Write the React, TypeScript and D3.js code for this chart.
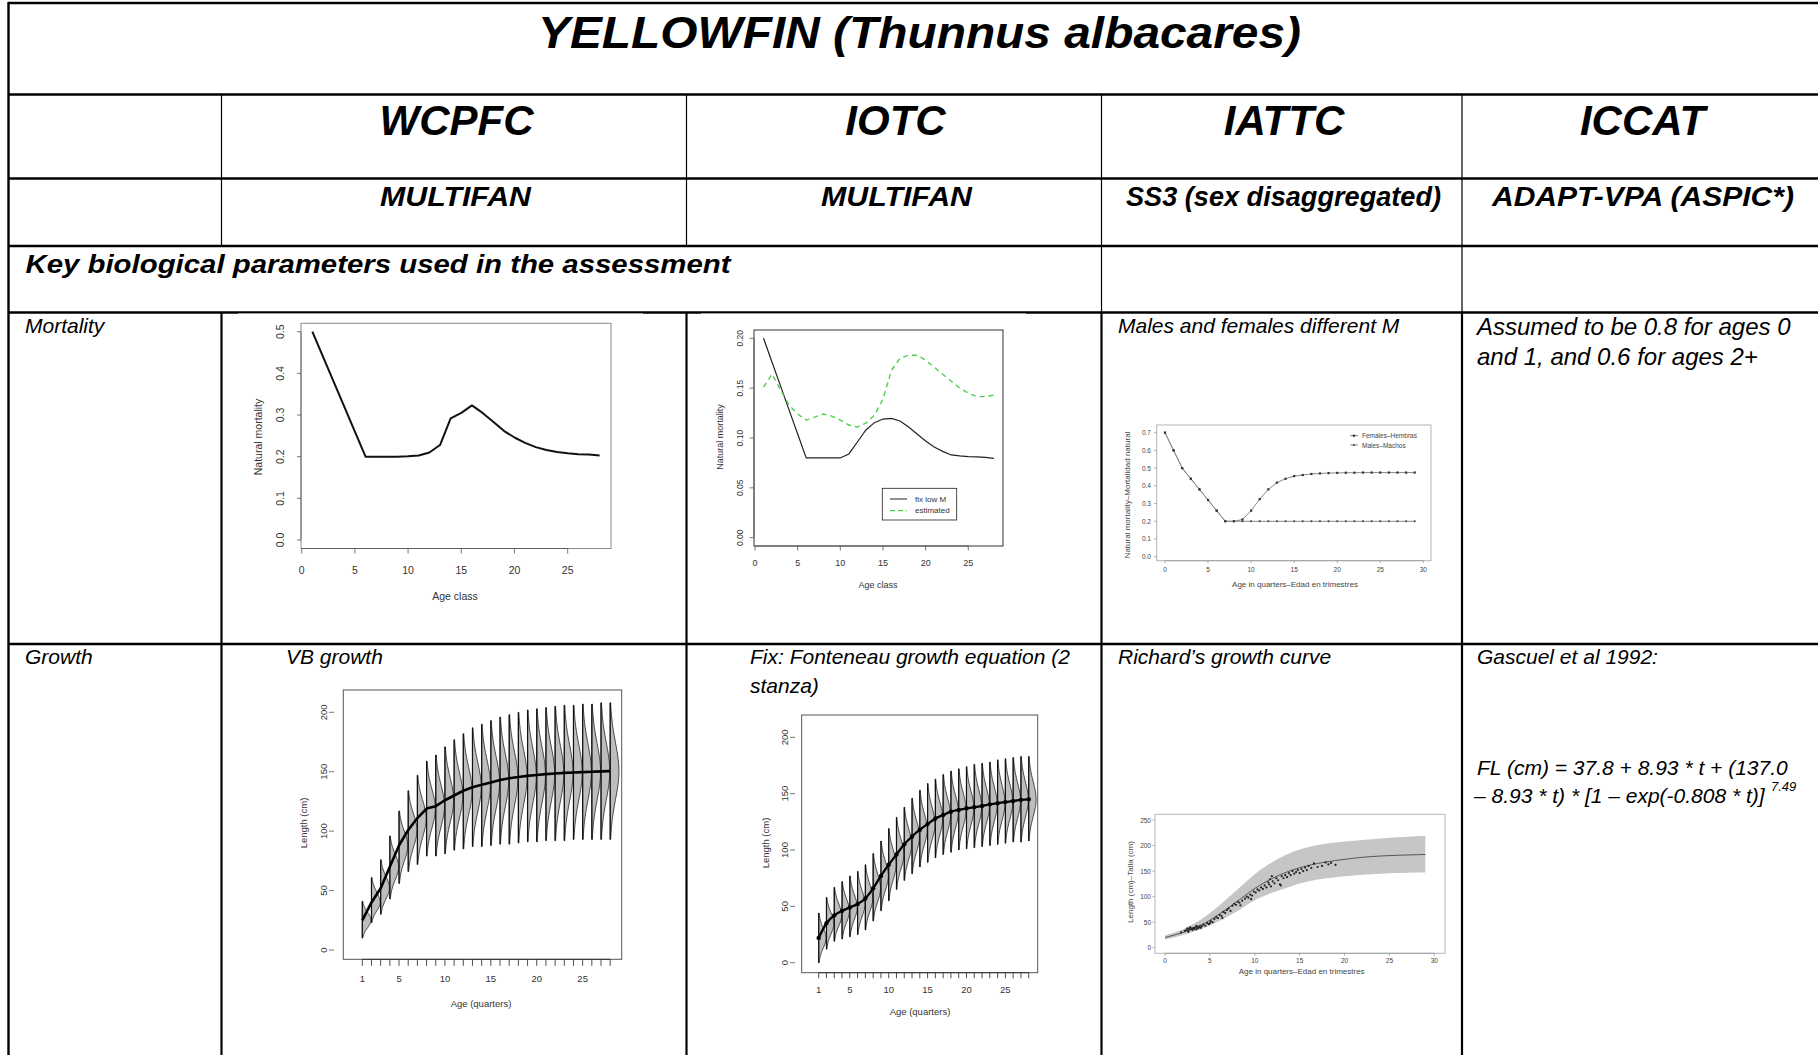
import React from 'react';
import * as d3 from 'd3';

const FONT = '"Liberation Sans", Arial, Helvetica, sans-serif';

// ---------- values ----------
const ageClass = [1, 2, 3, 4, 5, 6, 7, 8, 9, 10, 11, 12, 13, 14, 15, 16, 17, 18, 19, 20, 21, 22, 23, 24, 25, 26, 27, 28];

// WCPFC natural mortality by age class
const wcpfcM = [0.5, 0.44, 0.38, 0.32, 0.26, 0.2, 0.2, 0.2, 0.2, 0.201, 0.203, 0.21, 0.228, 0.292, 0.305, 0.323, 0.305, 0.284,
  0.262, 0.246, 0.233, 0.223, 0.216, 0.211, 0.208, 0.206, 0.205, 0.203];

// IOTC natural mortality: fixed low M and estimated
const iotcFixLowM = [0.2, 0.176, 0.152, 0.128, 0.104, 0.08, 0.08, 0.08, 0.08, 0.08, 0.084, 0.096, 0.108, 0.1154, 0.119, 0.1197,
  0.117, 0.111, 0.104, 0.097, 0.091, 0.0866, 0.083, 0.082, 0.0813, 0.081, 0.0806, 0.0796];
const iotcEstimated = [0.151, 0.164, 0.148, 0.133, 0.124, 0.118, 0.121, 0.124, 0.122, 0.118, 0.113, 0.111, 0.115, 0.123, 0.139,
  0.168, 0.18, 0.183, 0.183, 0.178, 0.171, 0.164, 0.157, 0.15, 0.145, 0.1415, 0.1415, 0.143];

// IATTC natural mortality by quarter, females and males
const quarterAge = [0, 1, 2, 3, 4, 5, 6, 7, 8, 9, 10, 11, 12, 13, 14, 15, 16, 17, 18, 19, 20, 21, 22, 23, 24, 25, 26, 27, 28, 29];
const iattcFemales = [0.7, 0.6, 0.5, 0.44, 0.38, 0.32, 0.26, 0.2, 0.2, 0.21, 0.26, 0.325, 0.38, 0.418, 0.44, 0.455, 0.461,
  0.467, 0.47, 0.472, 0.473, 0.474, 0.474, 0.475, 0.475, 0.475, 0.475, 0.475, 0.475, 0.475];
const iattcMales = [0.7, 0.6, 0.5, 0.44, 0.38, 0.32, 0.26, 0.2, 0.2, 0.2, 0.2, 0.2, 0.2, 0.2, 0.2, 0.2, 0.2, 0.2, 0.2, 0.2,
  0.2, 0.2, 0.2, 0.2, 0.2, 0.2, 0.2, 0.2, 0.2, 0.2];

// WCPFC VB growth: mean length at age and extent of the length distribution
const wcpfcLen = [25, 40, 52, 70, 88, 101, 111, 119, 121, 126, 130, 134, 137, 139, 141, 143, 144.5, 145.5, 146.5, 147.3,
  148, 148.5, 149, 149.4, 149.7, 150, 150.3, 150.5];
const wcpfcLenLow = [10, 23, 30, 43, 56, 66, 72, 79, 79, 81, 84, 85, 87, 87, 88, 89, 89, 90, 91, 91, 92, 92, 92, 93, 93, 93, 93, 93];
const wcpfcLenHigh = [41, 61, 76, 96, 117, 134, 147, 159, 164, 171, 177, 182, 187, 190, 193, 196, 198, 200, 202, 203, 204,
  205, 206, 206, 207, 207, 208, 208];

// IOTC two-stanza growth
const iotcLen = [22, 35, 42, 46, 49, 52, 57, 66, 77, 87, 96, 105, 112, 118, 123, 128, 131, 134, 135.5, 137, 138, 139, 140.5,
  141.5, 142.5, 143.5, 144.5, 145];
const iotcLenLow = [0, 12, 19, 21, 23, 25, 29, 37, 46, 55, 65, 73, 79, 85, 89, 93, 96, 98, 100, 101, 102, 103, 104, 105, 106,
  107, 107, 108];
const iotcLenHigh = [44, 58, 67, 72, 77, 81, 87, 97, 108, 119, 129, 138, 146, 153, 159, 163, 167, 170, 172, 174, 176, 177,
  178, 180, 181, 182, 183, 183];

// IATTC Richards growth curve with its band
const richardsAge = [0, 2, 4, 6, 8, 10, 12, 14, 16, 18, 20, 22, 24, 26, 28, 29];
const richardsLen = [20, 30, 44, 65, 90, 116, 136, 151, 161, 168, 173, 177, 179.5, 181, 182, 182.5];
const richardsLow = [16, 25, 36, 52, 71, 93, 108, 120, 130, 136, 140, 143, 145, 146, 147, 147];
const richardsHigh = [24, 36, 55, 82, 113, 144, 168, 186, 197, 204, 208, 211, 214, 216, 218, 218.5];
const iattcObsAge = [1.8, 2.2, 2.4, 2.5, 2.6, 2.7, 2.8, 2.9, 3.0, 3.1, 3.2, 3.3, 3.4, 3.5, 3.6, 3.7, 3.8, 3.9, 4.0, 4.1,
  4.3, 4.5, 4.7, 4.9, 5.1, 5.3, 5.5, 5.7, 5.9, 6.1, 6.3, 6.5, 6.7, 6.9, 7.1, 7.3, 7.5, 7.7, 7.9, 8.1, 8.3, 8.6, 8.9, 9.1,
  9.3, 9.5, 9.7, 9.9, 10.1, 10.3, 10.5, 10.7, 10.9, 11.1, 11.3, 11.5, 11.6, 11.7, 11.8, 12.0, 12.2, 12.4, 12.6, 12.8, 13.0,
  13.2, 13.4, 13.6, 13.8, 14.0, 14.2, 14.4, 14.6, 14.8, 15.0, 15.2, 15.4, 15.6, 15.8, 16.0, 16.3, 16.6, 17.0, 17.5, 17.9,
  18.2, 18.5, 19.0, 12.9, 11.9, 9.6, 8.4, 6.4, 5.0, 3.5, 2.6];
const iattcObsLen = [30, 33, 35, 38, 34, 37, 40, 36, 38, 35, 39, 37, 40, 36, 41, 38, 40, 43, 39, 42, 45, 43, 48, 46, 52,
  50, 56, 60, 58, 64, 62, 70, 68, 74, 77, 72, 82, 86, 84, 90, 88, 92, 96, 100, 98, 104, 102, 110, 108, 114, 112, 118, 115,
  122, 118, 128, 124, 134, 120, 130, 126, 136, 132, 124, 140, 136, 142, 138, 146, 142, 150, 145, 148, 152, 146, 154, 150,
  157, 152, 160, 156, 165, 158, 160, 167, 163, 166, 162, 122, 140, 95, 83, 58, 48, 43, 31];

// tick labels
const wcpfcMTicks = ['0.0', '0.1', '0.2', '0.3', '0.4', '0.5'];
const iotcMTicks = ['0.00', '0.05', '0.10', '0.15', '0.20'];
const iattcMTicks = ['0.0', '0.1', '0.2', '0.3', '0.4', '0.5', '0.6', '0.7'];
const growthLabelAges = [1, 5, 10, 15, 20, 25];

type Lin = d3.ScaleLinear<number, number>;

function Box({ x0, x1, y0, y1, stroke = '#888', sw = 1 }: any) {
  return <rect x={x0} y={y0} width={x1 - x0} height={y1 - y0} fill="none" stroke={stroke} strokeWidth={sw} />;
}

function BottomAxis({ scale, at, ticks, labels, len, labelY, fs, stroke = '#555', fill = '#333' }: any) {
  return (
    <g>
      <line x1={scale(ticks[0])} x2={scale(ticks[ticks.length - 1])} y1={at} y2={at} stroke={stroke} strokeWidth={0.8} />
      {ticks.map((t: number) => (
        <line key={'t' + t} x1={scale(t)} x2={scale(t)} y1={at} y2={at + len} stroke={stroke} strokeWidth={0.8} />
      ))}
      {labels.map((l: { v: number; t: string }) => (
        <text key={'l' + l.v} x={scale(l.v)} y={labelY} textAnchor="middle" dominantBaseline="central" fontSize={fs} fill={fill}>
          {l.t}
        </text>
      ))}
    </g>
  );
}

function LeftAxis({ scale, at, ticks, labels, len, labelX, fs, rotate = true, line = true, stroke = '#555', fill = '#333' }: any) {
  return (
    <g>
      {line && <line x1={at} x2={at} y1={scale(ticks[0])} y2={scale(ticks[ticks.length - 1])} stroke={stroke} strokeWidth={0.8} />}
      {ticks.map((t: number) => (
        <line key={'t' + t} x1={at} x2={at - len} y1={scale(t)} y2={scale(t)} stroke={stroke} strokeWidth={0.8} />
      ))}
      {ticks.map((t: number, i: number) =>
        rotate ? (
          <text key={'l' + t} transform={`translate(${labelX},${scale(t)}) rotate(-90)`} textAnchor="middle"
            dominantBaseline="central" fontSize={fs} fill={fill}>{labels[i]}</text>
        ) : (
          <text key={'l' + t} x={labelX} y={scale(t)} textAnchor="end" dominantBaseline="central" fontSize={fs} fill={fill}>
            {labels[i]}
          </text>
        )
      )}
    </g>
  );
}

function Titles({ xt, xx, xy, yt, yx, yy, fs, fill = '#333' }: any) {
  return (
    <g fontSize={fs} fill={fill}>
      <text x={xx} y={xy} textAnchor="middle" dominantBaseline="central">{xt}</text>
      <text transform={`translate(${yx},${yy}) rotate(-90)`} textAnchor="middle" dominantBaseline="central">{yt}</text>
    </g>
  );
}

function Violins({ ages, mean, low, high, x, y, w }: { ages: number[]; mean: number[]; low: number[]; high: number[]; x: Lin; y: Lin; w: number }) {
  return (
    <g>
      {ages.map((a, i) => {
        const m = mean[i];
        const lo = low[i];
        const hi = high[i];
        const sdU = (hi - m) / 2.4;
        const sdL = (m - lo) / 2.4;
        const steps = 48;
        const pts: [number, number][] = d3.range(steps + 1).map((k) => {
          const v = lo + ((hi - lo) * k) / steps;
          const sd = v > m ? sdU : sdL;
          const z = (v - m) / sd;
          return [x(a + w * Math.exp(-0.5 * z * z)), y(v)];
        });
        const d = `M${x(a)},${y(lo)}L` + pts.map((p) => p.join(',')).join('L') + `L${x(a)},${y(hi)}Z`;
        return (
          <g key={a}>
            <path d={d} fill="#bdbdbd" stroke="#222" strokeWidth={0.8} />
            <line x1={x(a)} x2={x(a)} y1={y(lo)} y2={y(hi)} stroke="#111" strokeWidth={1.2} />
          </g>
        );
      })}
    </g>
  );
}

// ---------- WCPFC mortality ----------
function WcpfcMortality() {
  const box = { x0: 301, x1: 611, y0: 323.3, y1: 548.5 };
  const x = d3.scaleLinear().domain([0, 25]).range([301.7, 567.7]);
  const y = d3.scaleLinear().domain([0, 0.5]).range([540, 331.7]);
  const line = d3.line<number>().x((_, i) => x(ageClass[i])).y((d) => y(d));
  const yt = [0, 0.1, 0.2, 0.3, 0.4, 0.5];
  return (
    <g fontFamily={FONT}>
      <rect x={238} y={313.5} width={405} height={296} fill="#fff" />
      <Box {...box} stroke="#8c8c8c" />
      <BottomAxis scale={x} at={box.y1} ticks={[0, 5, 10, 15, 20, 25]} len={5}
        labels={[0, 5, 10, 15, 20, 25].map((v) => ({ v, t: String(v) }))} labelY={570} fs={10.5} />
      <LeftAxis scale={y} at={box.x0} ticks={yt} labels={wcpfcMTicks} len={4} labelX={280} fs={10.5} />
      <Titles xt="Age class" xx={455} xy={596} yt="Natural mortality" yx={258} yy={437} fs={10.5} />
      <path d={line(wcpfcM) || ''} fill="none" stroke="#111" strokeWidth={2} strokeLinejoin="round" />
    </g>
  );
}

// ---------- IOTC mortality ----------
function IotcMortality() {
  const box = { x0: 754, x1: 1003, y0: 330, y1: 546 };
  const x = d3.scaleLinear().domain([0, 25]).range([755, 968.3]);
  const y = d3.scaleLinear().domain([0, 0.2]).range([537.7, 338.3]);
  const line = d3.line<number>().x((_, i) => x(ageClass[i])).y((d) => y(d));
  const yt = [0, 0.05, 0.1, 0.15, 0.2];
  return (
    <g fontFamily={FONT}>
      <rect x={701} y={313.5} width={325} height={287} fill="#fff" />
      <Box {...box} stroke="#333" />
      <BottomAxis scale={x} at={box.y1} ticks={[0, 5, 10, 15, 20, 25]} len={4.5}
        labels={[0, 5, 10, 15, 20, 25].map((v) => ({ v, t: String(v) }))} labelY={563} fs={9} />
      <LeftAxis scale={y} at={box.x0} ticks={yt} labels={iotcMTicks} len={4.5} labelX={740} fs={8.5} />
      <Titles xt="Age class" xx={878} xy={585} yt="Natural mortality" yx={720} yy={437} fs={9} />
      <path d={line(iotcFixLowM) || ''} fill="none" stroke="#222" strokeWidth={1.2} />
      <path d={line(iotcEstimated) || ''} fill="none" stroke="#4fd04f" strokeWidth={1.4} strokeDasharray="5,4" />
      <rect x={882.3} y={488.3} width={74.4} height={31.7} fill="#fff" stroke="#222" strokeWidth={0.8} />
      <line x1={890} x2={907} y1={499} y2={499} stroke="#222" strokeWidth={1} />
      <line x1={890} x2={907} y1={510.7} y2={510.7} stroke="#4fd04f" strokeWidth={1.3} strokeDasharray="5,3" />
      <text x={915} y={499} dominantBaseline="central" fontSize={8} fill="#333">fix low M</text>
      <text x={915} y={510.7} dominantBaseline="central" fontSize={8} fill="#333">estimated</text>
    </g>
  );
}

// ---------- IATTC mortality ----------
function IattcMortality() {
  const box = { x0: 1156.7, x1: 1431, y0: 425, y1: 560.7 };
  const x = d3.scaleLinear().domain([0, 30]).range([1165, 1423.3]);
  const y = d3.scaleLinear().domain([0, 0.7]).range([556.7, 432.7]);
  const line = d3.line<number>().x((_, i) => x(quarterAge[i])).y((d) => y(d));
  const yt = [0, 0.1, 0.2, 0.3, 0.4, 0.5, 0.6, 0.7];
  const xt = [0, 5, 10, 15, 20, 25, 30];
  return (
    <g fontFamily={FONT}>
      <Box {...box} stroke="#b5b5b5" />
      <BottomAxis scale={x} at={box.y1} ticks={xt} len={2.5} labels={xt.map((v) => ({ v, t: String(v) }))}
        labelY={569} fs={6.5} stroke="#999" fill="#444" />
      <LeftAxis scale={y} at={box.x0} ticks={yt} labels={iattcMTicks} len={2.5} labelX={1151} fs={6.5}
        rotate={false} line={false} stroke="#999" fill="#444" />
      <Titles xt="Age in quarters–Edad en trimestres" xx={1295} xy={584} yt="Natural mortality–Mortalidad natural"
        yx={1127} yy={495} fs={8} fill="#444" />
      <path d={line(iattcMales) || ''} fill="none" stroke="#8a8a8a" strokeWidth={1} />
      <path d={line(iattcFemales) || ''} fill="none" stroke="#8a8a8a" strokeWidth={1} />
      {iattcMales.map((v, i) => (
        <circle key={'m' + i} cx={x(quarterAge[i])} cy={y(v)} r={1.1} fill="#444" />
      ))}
      {iattcFemales.map((v, i) => (
        <rect key={'f' + i} x={x(quarterAge[i]) - 1.1} y={y(v) - 1.1} width={2.2} height={2.2} fill="#333" />
      ))}
      <line x1={1350} x2={1358} y1={435.7} y2={435.7} stroke="#888" />
      <rect x={1352.9} y={434.6} width={2.2} height={2.2} fill="#333" />
      <line x1={1350} x2={1358} y1={445} y2={445} stroke="#888" />
      <circle cx={1354} cy={445} r={1.1} fill="#444" />
      <text x={1362} y={435.7} dominantBaseline="central" fontSize={6.5} fill="#444">Females–Hembras</text>
      <text x={1362} y={445} dominantBaseline="central" fontSize={6.5} fill="#444">Males–Machos</text>
    </g>
  );
}

// ---------- WCPFC growth ----------
function WcpfcGrowth() {
  const box = { x0: 343.3, x1: 621.7, y0: 690, y1: 959.3 };
  const x = d3.scaleLinear().domain([1, 28]).range([362.3, 610.2]);
  const y = d3.scaleLinear().domain([0, 200]).range([950, 712.3]);
  const line = d3.line<number>().x((_, i) => x(ageClass[i])).y((d) => y(d));
  return (
    <g fontFamily={FONT}>
      <Violins ages={ageClass} mean={wcpfcLen} low={wcpfcLenLow} high={wcpfcLenHigh} x={x} y={y} w={0.95} />
      <path d={line(wcpfcLen) || ''} fill="none" stroke="#000" strokeWidth={2.6} strokeLinejoin="round" />
      <Box {...box} stroke="#555" />
      <BottomAxis scale={x} at={box.y1} ticks={ageClass} len={6.5}
        labels={growthLabelAges.map((v) => ({ v, t: String(v) }))} labelY={978} fs={9.5} stroke="#222" />
      <LeftAxis scale={y} at={334} ticks={[0, 50, 100, 150, 200]} labels={['0', '50', '100', '150', '200']} len={5}
        labelX={323.3} fs={9.5} line={false} />
      <Titles xt="Age (quarters)" xx={481} xy={1003} yt="Length (cm)" yx={303.3} yy={823} fs={9.5} />
    </g>
  );
}

// ---------- IOTC growth ----------
function IotcGrowth() {
  const box = { x0: 801.7, x1: 1037.7, y0: 715, y1: 972.7 };
  const x = d3.scaleLinear().domain([1, 28]).range([818.7, 1028.7]);
  const y = d3.scaleLinear().domain([0, 200]).range([962.7, 737.3]);
  const line = d3.line<number>().x((_, i) => x(ageClass[i])).y((d) => y(d)).curve(d3.curveMonotoneX);
  return (
    <g fontFamily={FONT}>
      <Violins ages={ageClass} mean={iotcLen} low={iotcLenLow} high={iotcLenHigh} x={x} y={y} w={0.95} />
      <path d={line(iotcLen) || ''} fill="none" stroke="#000" strokeWidth={2.3} strokeLinejoin="round" />
      {iotcLen.map((v, i) => (
        <circle key={i} cx={x(ageClass[i])} cy={y(v)} r={2.2} fill="#000" />
      ))}
      <Box {...box} stroke="#555" />
      <BottomAxis scale={x} at={box.y1} ticks={ageClass} len={5.6}
        labels={growthLabelAges.map((v) => ({ v, t: String(v) }))} labelY={989} fs={9.5} stroke="#222" />
      <LeftAxis scale={y} at={795} ticks={[0, 50, 100, 150, 200]} labels={['0', '50', '100', '150', '200']} len={5}
        labelX={784} fs={9.5} line={false} />
      <Titles xt="Age (quarters)" xx={920} xy={1011.7} yt="Length (cm)" yx={765} yy={843} fs={9.5} />
    </g>
  );
}

// ---------- IATTC growth ----------
function IattcGrowth() {
  const box = { x0: 1155, x1: 1445, y0: 814.3, y1: 953.3 };
  const x = d3.scaleLinear().domain([0, 30]).range([1165, 1434.3]);
  const y = d3.scaleLinear().domain([0, 250]).range([947.7, 820]);
  const band = d3.area<number>().x((_, i) => x(richardsAge[i])).y0((_, i) => y(richardsLow[i])).y1((d) => y(d))
    .curve(d3.curveMonotoneX);
  const line = d3.line<number>().x((_, i) => x(richardsAge[i])).y((d) => y(d)).curve(d3.curveMonotoneX);
  const xt = [0, 5, 10, 15, 20, 25, 30];
  const yt = [0, 50, 100, 150, 200, 250];
  return (
    <g fontFamily={FONT}>
      <path d={band(richardsHigh) || ''} fill="#c6c6c6" stroke="none" />
      <path d={line(richardsLen) || ''} fill="none" stroke="#555" strokeWidth={1} />
      {iattcObsAge.map((a, i) => (
        <circle key={i} cx={x(a)} cy={y(iattcObsLen[i])} r={1.1} fill="#222" />
      ))}
      <Box {...box} stroke="#b5b5b5" />
      <BottomAxis scale={x} at={box.y1} ticks={xt} len={2.5} labels={xt.map((v) => ({ v, t: String(v) }))}
        labelY={960} fs={6.5} stroke="#999" fill="#444" />
      <LeftAxis scale={y} at={box.x0} ticks={yt} labels={yt.map(String)} len={2.5} labelX={1151} fs={6.5}
        rotate={false} line={false} stroke="#999" fill="#444" />
      <Titles xt="Age in quarters–Edad en trimestres" xx={1301.7} xy={971.7} yt="Length (cm)–Talla (cm)"
        yx={1130} yy={882} fs={8} fill="#444" />
    </g>
  );
}

function Table() {
  const thick = 2.4;
  const thin = 1.2;
  const H = 1055;
  const hLines = [3, 94.5, 178.5, 246, 312.5, 644];
  const cols = [221.5, 686.5, 1101.5, 1462];
  return (
    <g stroke="#000">
      {hLines.map((yy) => (
        <line key={yy} x1={8} x2={1818} y1={yy} y2={yy} strokeWidth={thick} />
      ))}
      <line x1={8.5} x2={8.5} y1={2} y2={H} strokeWidth={thick} />
      {cols.map((cx, i) => (
        <g key={cx}>
          <line x1={cx} x2={cx} y1={94.5} y2={i < 2 ? 246 : 312.5} strokeWidth={thin} />
          <line x1={cx} x2={cx} y1={312.5} y2={H} strokeWidth={2.2} />
        </g>
      ))}
    </g>
  );
}

function Texts() {
  const bi = { fontFamily: FONT, fontWeight: 700, fontStyle: 'italic' as const, fill: '#000' };
  const it = { fontFamily: FONT, fontStyle: 'italic' as const, fill: '#000', fontSize: 21 };
  return (
    <g>
      <text {...bi} x={919.5} y={48} fontSize={45} textAnchor="middle" textLength={763} lengthAdjust="spacingAndGlyphs">
        YELLOWFIN (Thunnus albacares)
      </text>
      <text {...bi} x={456.6} y={135} fontSize={42} textAnchor="middle">WCPFC</text>
      <text {...bi} x={895.5} y={135} fontSize={42} textAnchor="middle">IOTC</text>
      <text {...bi} x={1284} y={135} fontSize={42} textAnchor="middle">IATTC</text>
      <text {...bi} x={1642.5} y={135} fontSize={42} textAnchor="middle">ICCAT</text>
      <text {...bi} x={455.5} y={206} fontSize={27} textAnchor="middle" textLength={151} lengthAdjust="spacingAndGlyphs">MULTIFAN</text>
      <text {...bi} x={896.5} y={206} fontSize={27} textAnchor="middle" textLength={151} lengthAdjust="spacingAndGlyphs">MULTIFAN</text>
      <text {...bi} x={1283.5} y={206} fontSize={27} textAnchor="middle" textLength={315} lengthAdjust="spacingAndGlyphs">
        SS3 (sex disaggregated)
      </text>
      <text {...bi} x={1643} y={206} fontSize={27} textAnchor="middle" textLength={302} lengthAdjust="spacingAndGlyphs">
        ADAPT-VPA (ASPIC*)
      </text>
      <text {...bi} x={25.5} y={273} fontSize={25} textLength={705} lengthAdjust="spacingAndGlyphs">
        Key biological parameters used in the assessment
      </text>

      <text {...it} x={25} y={333}>Mortality</text>
      <text {...it} x={1118} y={333}>Males and females different M</text>
      <text {...it} x={1477} y={335} fontSize={24}>Assumed to be 0.8 for ages 0</text>
      <text {...it} x={1477} y={365} fontSize={24}>and 1, and 0.6 for ages 2+</text>

      <text {...it} x={25} y={664}>Growth</text>
      <text {...it} x={286} y={664}>VB growth</text>
      <text {...it} x={750} y={664}>Fix: Fonteneau growth equation (2</text>
      <text {...it} x={750} y={693}>stanza)</text>
      <text {...it} x={1118} y={664}>Richard’s growth curve</text>
      <text {...it} x={1477} y={664}>Gascuel et al 1992:</text>
      <text {...it} x={1477} y={775}>FL (cm) = 37.8 + 8.93 * t + (137.0</text>
      <text {...it} x={1474} y={803}>– 8.93 * t) * [1 – exp(-0.808 * t)]</text>
      <text {...it} x={1771} y={791} fontSize={13}>7.49</text>
    </g>
  );
}

export default function App() {
  return (
    <div style={{ position: 'fixed', left: 0, top: 0, width: 1818, height: 1055, background: '#fff' }}>
      <svg width={1818} height={1055} style={{ display: 'block' }}>
        <rect width={1818} height={1055} fill="#fff" />
        <Table />
        <WcpfcMortality />
        <IotcMortality />
        <IattcMortality />
        <WcpfcGrowth />
        <IotcGrowth />
        <IattcGrowth />
        <Texts />
      </svg>
    </div>
  );
}
